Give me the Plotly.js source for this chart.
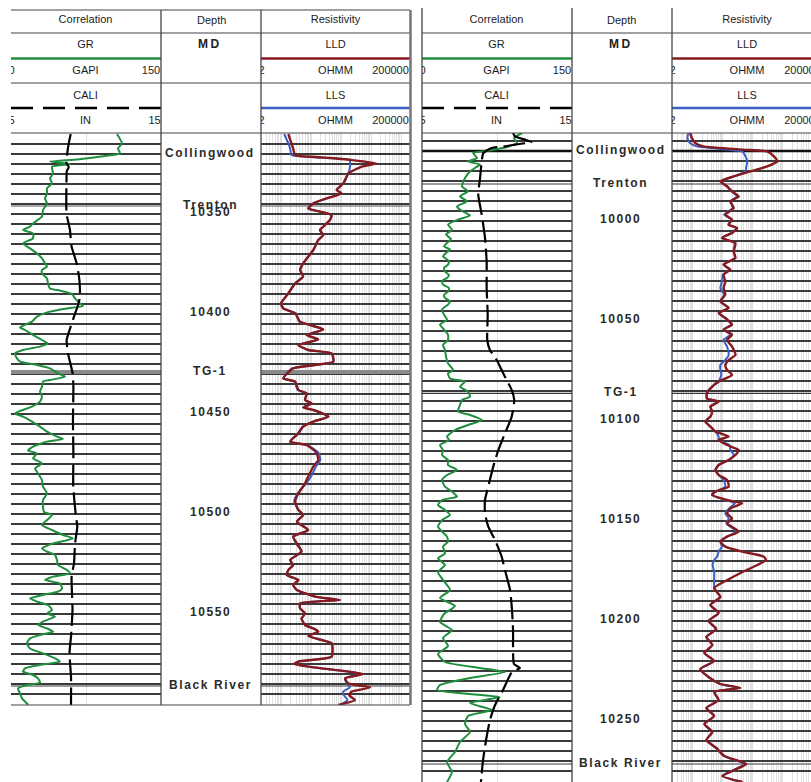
<!DOCTYPE html>
<html>
<head>
<meta charset="utf-8">
<title>Well log correlation</title>
<script src="https://cdn.plot.ly/plotly-3.0.1.min.js"></script>
<style>
  html, body { margin: 0; padding: 0; background: #ffffff; }
  #logs { width: 811px; height: 782px; }
</style>
</head>
<body>
<div id="logs"></div>
<script>
// ---------- header text and curve scales ----------
const trackTitles = ['Correlation', 'Depth', 'Resistivity'];
const depthCurve = 'MD';
const grName = 'GR', grUnit = 'GAPI', grScale = [0, 150];
const caliName = 'CALI', caliUnit = 'IN', caliScale = [5, 15];
const lldName = 'LLD', llsName = 'LLS', resUnit = 'OHMM', resScale = [2, 200000];
const resGridVals = [2,3,4,5,6,7,8,9,10,20,30,40,50,60,70,80,90,100,200,300,400,500,600,700,800,900,
  1000,2000,3000,4000,5000,6000,7000,8000,9000,10000,20000,30000,40000,50000,60000,70000,80000,90000,100000,200000];

// ---------- well 1 (left) ----------
const w1TopNames = ['Collingwood', 'Trenton', 'TG-1', 'Black River'];
const w1TopDepths = [10320, 10346, 10429, 10586];
const w1DepthLabels = [10350, 10400, 10450, 10500, 10550];

const w1GrDepth = [
  10310,10314.7,10317.2,10319.7,10321,10322.7,10323.8,10325,10326.3,10329.7,
  10332.2,10334.7,10337.2,10339.7,10342.2,10344.7,10348,10351.3,10354.7,10356.3,
  10358,10359.7,10362.2,10364.7,10367.2,10369.7,10372.2,10374.7,10376.3,10378,
  10379.7,10382.2,10384.7,10387.2,10388.3,10390,10392.2,10394.7,10396,10397.2,
  10398.8,10401.3,10403.8,10405,10406.7,10408,10410.5,10413,10414.7,10416.3,
  10418,10419.7,10422.2,10423.8,10425.5,10427.2,10429.7,10431.3,10433,10433.8,
  10436.3,10438.8,10441.3,10443.8,10446.3,10449.7,10451.3,10453.8,10456.3,10458.8,
  10461.3,10462.5,10463.8,10466.3,10468.3,10469.7,10472.2,10474.7,10477.2,10479.7,
  10483,10486.3,10489.7,10493,10496.3,10499,10500.5,10503,10505.5,10508,
  10510.5,10512.2,10514.7,10517.2,10518.8,10520.5,10523,10525.5,10528,10529.7,
  10531.3,10533,10534.7,10537.2,10538.8,10540.5,10542.2,10543.8,10545.5,10548,
  10549.7,10551.3,10553.8,10555.5,10557.2,10558.8,10560.5,10562.2,10564.7,10567.2,
  10569.7,10572.2,10573.8,10575.5,10577.2,10578.8,10580.5,10582.2,10584.3,10585.5,
  10587.2,10589.7,10592.2,10594.7,10595.5];
const w1Gr = [
  106,111,107,109,94,66,39,59,41,42,
  39,41,36,36,34,36,32,31,22,19,
  12,22,22,12,19,26,31,34,36,31,
  31,36,37,39,49,61,64,69,72,56,
  39,26,21,16,9,14,22,31,37,29,
  12,4,6,9,26,39,47,54,39,32,
  31,29,31,29,21,4,12,21,29,36,
  46,52,36,22,17,26,22,31,24,27,
  31,32,36,32,32,33,41,36,31,41,
  52,62,42,31,36,44,46,47,56,59,
  42,34,49,51,47,32,19,26,37,41,
  36,44,32,27,36,42,29,19,16,19,
  32,44,49,29,14,12,22,27,29,16,
  7,9,11,16,17];

const w1CaliDepth = [
  10310,10314.7,10319.7,10324.7,10326.5,10328.5,10333,10349.7,10358,10366.3,
  10374.7,10383,10391.3,10395.5,10401.3,10406.3,10413,10419.7,10429.7,10436.3,
  10453,10469.7,10486.3,10501.3,10506.3,10514.7,10524.7,10531.3,10548,10561.3,
  10569.7,10581.3,10595.5];
const w1Cali = [
  8.98,8.85,8.75,8.7,8.85,8.72,8.7,8.7,8.93,9.04,
  9.38,9.56,9.6,9.47,9.2,8.98,8.71,8.8,9.11,9.16,
  9.13,9.16,9.15,9.33,9.42,9.27,9.2,9.04,9.1,9.0,
  8.9,9.0,9.0];

const w1ResDepth = [
  10310,10314.7,10317.2,10320.5,10321.7,10323,10324.7,10326.3,10329.7,10334.7,
  10338,10339.7,10342.2,10344.7,10347.2,10348.8,10350.5,10353,10356.3,10358,
  10360.5,10363,10368,10374.7,10378,10381.3,10384.7,10389.7,10394.7,10397.2,
  10399.7,10403.8,10407.7,10410.5,10412.7,10415.5,10418,10419.7,10423.8,10425.5,
  10427.2,10432.2,10433.8,10438,10439.7,10443,10444.7,10446.7,10448,10451.3,
  10453.8,10456.3,10459.7,10463.8,10465.5,10467.2,10469.7,10473,10476.3,10481.3,
  10484.7,10489.7,10493.8,10498,10500.5,10503.8,10508,10511.3,10514.7,10518.8,
  10523,10525.5,10528,10530.5,10533,10535.5,10538,10541.3,10543,10544.7,
  10547.2,10549.7,10552.2,10555.5,10557.2,10558.8,10561,10563,10564.7,10571.3,
  10573.8,10575,10577.2,10578.8,10580,10582.2,10584.7,10586.7,10588.8,10590.5,
  10593,10595.5];
const w1Lld = [
  16.5,21,24,28,218,2200,15000,4800,1700,1160,
  690,1020,320,114,77,191,470,413,247,191,
  247,167,114,52,41,52,28,16.5,9.4,11.2,
  28,41,247,68,167,36,77,470,534,130,
  24,11.2,28,36,68,60,100,52,114,363,
  114,52,36,19,68,100,148,167,114,77,
  60,36,28,36,52,32,77,24,32,46,
  19,24,16.5,14.6,36,24,32,130,895,41,
  41,60,46,60,114,167,77,218,470,470,
  36,26,218,1700,5400,1320,1700,9100,2200,1800,
  2850,785];
const w1Lls = [
  12,16.5,19,21,150,1900,1950,1950,1700,1160,
  690,1020,320,114,77,191,470,413,247,191,
  247,167,114,52,41,52,28,16.5,9.4,11.2,
  30,38,247,68,167,36,77,470,534,130,
  22,11.2,26,34,68,60,100,52,114,363,
  114,50,34,19,68,110,175,195,140,95,
  66,34,26,36,52,32,77,24,30,46,
  19,24,16.5,14.6,36,24,32,130,895,41,
  41,60,46,60,114,167,77,218,470,470,
  36,26,218,1700,5000,1320,1500,1900,1150,1200,
  1600,900];

// ---------- well 2 (right) ----------
const w2TopNames = ['Collingwood', 'Trenton', 'TG-1', 'Black River'];
const w2TopDepths = [9965, 9981.5, 10086.2, 10271.5];
const w2DepthLabels = [10000, 10050, 10100, 10150, 10200, 10250];

const w2GrDepth = [
  9956,9958.5,9961,9963,9964.5,9965.3,9966,9968.5,9970.2,9971.8,
  9973.5,9975.2,9978.5,9982.7,9985.2,9987.7,9990.2,9992.7,9995,9997.2,
  9999.3,10001.8,10004.3,10006.8,10009,10011,10012.7,10014.3,10016,10017.7,
  10020,10021.8,10023.5,10025.2,10027,10028.5,10030,10031.8,10033.5,10035.2,
  10037,10038.5,10040.2,10041.8,10044.3,10046.8,10049.3,10051.8,10054.3,10056.8,
  10059.5,10062,10064.5,10067.8,10071.2,10074.5,10076.2,10078.7,10080.3,10082.8,
  10085.3,10087.8,10089.5,10092,10095.3,10097,10099.5,10102,10104.5,10107.8,
  10109.5,10112,10114.5,10117,10119.5,10122,10124.5,10127,10129.5,10132.8,
  10135.3,10137.8,10139.5,10142,10144.5,10147,10149.5,10152.8,10155.3,10157.8,
  10160.3,10162.8,10166.2,10168.7,10172,10175.5,10179.5,10184.5,10188.5,10192.5,
  10196.5,10200.5,10204.5,10208.5,10212.5,10216.5,10220.5,10223.5,10225.5,10228.5,
  10232,10234.5,10238,10241,10244.5,10247.5,10251.5,10255.5,10260.5,10265.5,
  10270.5,10275.5,10280.5];
const w2Gr = [
  100,92,95,85,70,60,51,55,46,58,
  53,48,43,40,46,38,45,35,40,48,
  36,26,30,24,29,25,22,28,24,21,
  27,26,22,23,27,25,20,21,27,26,
  22,23,28,26,20,22,25,18,22,26,
  26,21,23,24,26,31,26,28,43,38,
  46,48,40,38,36,48,60,46,33,25,
  27,18,21,20,26,26,35,25,20,23,
  30,35,20,16,23,28,20,16,20,25,
  26,21,23,16,23,16,21,28,18,33,
  22,18,30,21,26,16,23,58,83,48,
  18,15,78,48,70,46,43,48,38,33,
  25,30,25];

const w2CaliDepth = [
  9956,9957.7,9959.3,9960.5,9961.8,9962.7,9963.5,9966,9970.2,9978.5,
  9986.8,9996.8,10008.5,10020.2,10033.5,10046.8,10059.5,10064.5,10069.5,10076.2,
  10084.5,10089.5,10097.8,10106.2,10114.5,10122.8,10131.2,10139.5,10146.2,10152.8,
  10159.5,10167.8,10174.5,10184.5,10194.5,10204.5,10214.5,10221.5,10223.5,10225.5,
  10234.5,10242,10249.5,10259.5,10269.5,10280.5];
const w2Cali = [
  11.07,11.2,11.87,12.3,11.2,10.53,9.65,9.09,8.98,8.87,
  8.75,8.98,9.2,9.31,9.31,9.38,9.35,9.53,9.98,10.42,
  10.98,11.15,10.98,10.53,10.09,9.75,9.47,9.2,9.2,9.42,
  9.87,10.31,10.53,10.87,11.0,11.07,11.07,11.13,11.53,11.0,
  10.4,9.87,9.53,9.27,9.07,8.93];

const w2ResDepth = [
  9956,9958.5,9961,9962.7,9964.3,9965.2,9967.7,9970.2,9972.7,9975.2,
  9977.7,9980.2,9982.7,9985.2,9987.7,9990.2,9993.5,9996.8,9999.3,10001.8,
  10003.5,10006,10008.5,10011,10015.2,10018.5,10021.8,10024.3,10026.8,10030.2,
  10033.5,10036.8,10040.2,10043.5,10046,10048.5,10051.8,10054.3,10056.8,10059.5,
  10062.8,10067,10069.5,10072,10074.5,10077,10080.3,10082.8,10086.2,10088.7,
  10090.3,10092.8,10095.3,10097.8,10100.3,10102.8,10105.3,10107.8,10109.5,10112,
  10114.5,10117,10119.5,10122,10124.5,10127,10129.5,10132.8,10135.3,10137,
  10139.5,10141.2,10143.7,10146.2,10148.7,10151.2,10155.3,10157.8,10160.3,10162.8,
  10165.3,10167.8,10169.5,10172,10175.5,10179.5,10183.5,10188,10192,10196,
  10200,10204,10208,10212,10216,10220,10224,10228,10231.5,10233.5,
  10235.5,10239.5,10243.5,10247.5,10251.5,10255.5,10259.5,10263.5,10267.5,10271.5,
  10274.5,10277.5,10280.5];
const w2Lld = [
  8.0,9.2,11.8,22,494,3000,5000,6500,3000,830,
  228,82,137,201,336,177,228,120,201,155,
  297,201,93,260,228,260,105,177,105,120,
  105,120,82,155,72,120,201,105,201,137,
  201,260,155,120,137,201,72,43.5,29,29,
  72,38,43.5,38,25.6,38,56,155,72,137,
  336,260,155,72,56,72,137,155,56,43.5,
  137,437,177,137,201,137,336,137,82,120,
  437,2300,2700,1400,450,140,51,82,38,72,
  33,60,28,44,24,51,17.5,33,82,380,
  51,72,28,51,24,44,28,60,111,600,
  240,95,450];
const w2Lls = [
  7.0,6.5,8.0,13.5,150,437,564,643,600,564,
  228,82,137,190,300,177,210,110,190,150,
  280,190,93,240,228,250,105,160,100,93,
  82,110,82,150,72,120,190,105,180,105,
  137,155,120,82,82,88,72,43.5,29,29,
  65,38,43.5,38,26,38,56,72,72,165,
  177,228,155,72,56,72,105,120,56,43.5,
  120,250,160,120,155,130,280,137,82,93,
  72,64,51,45,51,51,51,80,38,70,
  33,58,28,44,24,50,17.5,33,80,330,
  51,70,28,51,24,44,28,60,105,520,
  230,95,400];

// ---------- page geometry (pixels of the 811 x 782 page) ----------
const W = 811, H = 782;
const px = v => v / W;
const py = v => 1 - v / H;
const HEAD_TOP = 10, HEAD_BOT = 133;
const ROW = { title: 20.5, curve1: 45, scale1: 71, curve2: 96, scale2: 121 };
const CURVE_LINE1 = 58.5, CURVE_LINE2 = 108;

const GREEN = '#1f8f3e', MAROON = '#861a1e', BLUE = '#3b5fc2', BLACK = '#000000';
const GRID_DARK = '#3a3a3a', GRID_LIGHT = '#e1e1e1', BORDER = '#444444';
const FONT = 'Liberation Sans, Arial, sans-serif';
const TEXT_C = '#1c1c1c';

const wells = [
  { t1: [11, 161], t2: [161, 261], t3: [261, 410], bottom: 705, top: 10, headTopLine: true,
    depthRange: [10595.5, 10309.5], labelX: 210,
    grD: w1GrDepth, gr: w1Gr, caD: w1CaliDepth, ca: w1Cali, rD: w1ResDepth, lld: w1Lld, lls: w1Lls,
    tops: w1TopNames, topD: w1TopDepths, depthLabels: w1DepthLabels,
    topStyle: [{ c: GRID_DARK, w: 1.2 }, { c: '#555555', w: 1.2 }, { c: '#8a8a8a', w: 4 }, { c: GRID_DARK, w: 1.2 }] },
  { t1: [422, 572], t2: [572, 672], t3: [672, 822], bottom: 782, top: 8, headTopLine: false,
    depthRange: [10280.5, 9956], labelX: 620.5,
    grD: w2GrDepth, gr: w2Gr, caD: w2CaliDepth, ca: w2Cali, rD: w2ResDepth, lld: w2Lld, lls: w2Lls,
    tops: w2TopNames, topD: w2TopDepths, depthLabels: w2DepthLabels,
    topStyle: [{ c: '#111111', w: 2.4 }, { c: GRID_DARK, w: 1.2 }, { c: GRID_DARK, w: 1.2 }, { c: GRID_DARK, w: 1.2 }] }
];

const HID = { showticklabels: false, ticks: '', showline: false, zeroline: false, showgrid: false, fixedrange: true };
const layout = {
  width: W, height: H,
  margin: { l: 0, r: 0, t: 0, b: 0 },
  paper_bgcolor: '#ffffff', plot_bgcolor: 'rgba(0,0,0,0)',
  showlegend: false,
  font: { family: FONT, size: 11, color: TEXT_C },
  shapes: [], annotations: []
};
const traces = [];
const logLo = Math.log10(resScale[0]), logHi = Math.log10(resScale[1]);

function hline(y, xa, xb, color, width, dash) {
  layout.shapes.push({ type: 'line', xref: 'paper', yref: 'paper', layer: 'above',
    x0: px(xa), x1: px(Math.min(xb, W)), y0: py(y), y1: py(y),
    line: { color: color, width: width, dash: dash || 'solid' } });
}
function vline(x, ya, yb, color, width) {
  layout.shapes.push({ type: 'line', xref: 'paper', yref: 'paper', layer: 'above',
    x0: px(x), x1: px(x), y0: py(ya), y1: py(yb), line: { color: color, width: width } });
}
const spaced = (t, s) => '<span style="letter-spacing:' + s + 'px">' + t + '</span>';

// header sub-plots share one pixel-unit y axis so cell text is clipped at track borders
layout.yaxis7 = Object.assign({}, HID, { domain: [py(HEAD_BOT), py(HEAD_TOP)], range: [HEAD_BOT, HEAD_TOP], anchor: 'x7' });

wells.forEach((w, i) => {
  const n = i * 3;
  const xGr = 'x' + (n + 1 === 1 ? '' : n + 1), xCa = 'x' + (n + 2), xRes = 'x' + (n + 3);
  const yD = i === 0 ? 'y' : 'y2';
  const yName = i === 0 ? 'yaxis' : 'yaxis2';
  const resEnd = Math.min(w.t3[1], W);
  const resRangeHi = logLo + (logHi - logLo) * (resEnd - w.t3[0]) / (w.t3[1] - w.t3[0]);

  layout['xaxis' + (n + 1 === 1 ? '' : n + 1)] = Object.assign({}, HID, {
    domain: [px(w.t1[0]), px(w.t1[1])], range: grScale, anchor: yD,
    showgrid: true, tickvals: [(grScale[0] + grScale[1]) / 2], gridcolor: GRID_LIGHT, gridwidth: 1 });
  layout['xaxis' + (n + 2)] = Object.assign({}, HID, { overlaying: xGr, range: caliScale, anchor: yD });
  layout['xaxis' + (n + 3)] = Object.assign({}, HID, {
    type: 'log', domain: [px(w.t3[0]), px(resEnd)], range: [logLo, resRangeHi], anchor: yD,
    showgrid: true, tickvals: resGridVals, gridcolor: GRID_LIGHT, gridwidth: 1 });
  layout[yName] = Object.assign({}, HID, {
    domain: [py(w.bottom), py(HEAD_BOT)], range: w.depthRange, anchor: xGr,
    showgrid: true, tick0: 0, dtick: 5, gridcolor: GRID_DARK, gridwidth: 1.2 });

  // formation-top rules: drawn first so they sit over the grid but under the curves
  w.tops.forEach((name, k) => {
    const st = w.topStyle[k];
    traces.push({ type: 'scatter', mode: 'lines', x: grScale, y: [w.topD[k], w.topD[k]], xaxis: xGr, yaxis: yD,
      name: name, line: { color: st.c, width: st.w }, hoverinfo: 'skip' });
    traces.push({ type: 'scatter', mode: 'lines', x: resScale, y: [w.topD[k], w.topD[k]], xaxis: xRes, yaxis: yD,
      name: name, line: { color: st.c, width: st.w }, hoverinfo: 'skip' });
  });

  // curves
  traces.push({ type: 'scatter', mode: 'lines', x: w.gr, y: w.grD, xaxis: xGr, yaxis: yD, name: grName,
    line: { color: GREEN, width: 2, shape: 'spline', smoothing: 0.5 }, hoverinfo: 'skip' });
  traces.push({ type: 'scatter', mode: 'lines', x: w.ca, y: w.caD, xaxis: xCa, yaxis: yD, name: caliName,
    line: { color: BLACK, width: 2.2, dash: '22px,6px', shape: 'spline', smoothing: 0.5 }, hoverinfo: 'skip' });
  traces.push({ type: 'scatter', mode: 'lines', x: w.lls, y: w.rD, xaxis: xRes, yaxis: yD, name: llsName,
    line: { color: BLUE, width: 2, shape: 'spline', smoothing: 0.5 }, hoverinfo: 'skip' });
  traces.push({ type: 'scatter', mode: 'lines', x: w.lld, y: w.rD, xaxis: xRes, yaxis: yD, name: lldName,
    line: { color: MAROON, width: 2.4, shape: 'spline', smoothing: 0.5 }, hoverinfo: 'skip' });

  // header cells for the correlation and resistivity tracks
  const h1 = 'x' + (7 + i * 2), h3 = 'x' + (8 + i * 2);
  layout['xaxis' + (7 + i * 2)] = Object.assign({}, HID, { domain: [px(w.t1[0]), px(w.t1[1])], range: w.t1, anchor: 'y7' });
  layout['xaxis' + (8 + i * 2)] = Object.assign({}, HID, { domain: [px(w.t3[0]), px(resEnd)], range: [w.t3[0], resEnd], anchor: 'y7' });
  const c1 = (w.t1[0] + w.t1[1]) / 2 - 0.5, c3 = (w.t3[0] + w.t3[1]) / 2;
  traces.push({ type: 'scatter', mode: 'text', xaxis: h1, yaxis: 'y7', cliponaxis: true, hoverinfo: 'skip',
    x: [c1, c1, w.t1[0] + 0.5, c1, w.t1[1] - 10, c1, w.t1[0] + 0.5, c1, w.t1[1] - 6.5],
    y: [ROW.title, ROW.curve1, ROW.scale1, ROW.scale1, ROW.scale1, ROW.curve2, ROW.scale2, ROW.scale2, ROW.scale2],
    text: [trackTitles[0], grName, String(grScale[0]), grUnit, String(grScale[1]), caliName,
           String(caliScale[0]), caliUnit, String(caliScale[1])],
    textfont: { family: FONT, size: 11, color: TEXT_C } });
  traces.push({ type: 'scatter', mode: 'text', xaxis: h3, yaxis: 'y7', cliponaxis: true, hoverinfo: 'skip',
    x: [c3, c3, w.t3[0] + 0.5, c3, w.t3[1] - 19.5, c3, w.t3[0] + 0.5, c3, w.t3[1] - 19.5],
    y: [ROW.title, ROW.curve1, ROW.scale1, ROW.scale1, ROW.scale1, ROW.curve2, ROW.scale2, ROW.scale2, ROW.scale2],
    text: [trackTitles[2], lldName, String(resScale[0]), resUnit, String(resScale[1]), llsName,
           String(resScale[0]), resUnit, String(resScale[1])],
    textfont: { family: FONT, size: 11, color: TEXT_C } });

  // depth track header
  layout.annotations.push({ xref: 'paper', yref: 'paper', x: px(w.labelX + 1), y: py(ROW.title), text: trackTitles[1],
    showarrow: false, xanchor: 'center', yanchor: 'middle', font: { family: FONT, size: 11, color: TEXT_C } });
  layout.annotations.push({ xref: 'paper', yref: 'paper', x: px(w.labelX), y: py(ROW.curve1 - 1), text: spaced(depthCurve, 2.5),
    showarrow: false, xanchor: 'center', yanchor: 'middle', font: { family: FONT, size: 12, color: '#222222', weight: 'bold' } });

  // header rules
  const right = Math.min(w.t3[1], W);
  if (w.headTopLine) hline(HEAD_TOP, w.t1[0], right, BORDER, 1.2);
  hline(33, w.t1[0], right, BORDER, 1.2);
  hline(CURVE_LINE1, w.t1[0], w.t1[1], GREEN, 2.4);
  hline(CURVE_LINE1, w.t3[0], right, MAROON, 2.4);
  hline(83, w.t1[0], right, BORDER, 1.2);
  hline(CURVE_LINE2, w.t1[0], w.t1[1], BLACK, 2.6, '22px,10px');
  hline(CURVE_LINE2, w.t3[0], right, BLUE, 2.4);
  hline(HEAD_BOT, w.t1[0], right, BORDER, 1.2);
  if (w.bottom < H) hline(w.bottom, w.t1[0], right, BORDER, 1.2);

  // track borders
  if (i === 1) vline(w.t1[0], w.top, w.bottom, BORDER, 1.3);
  vline(w.t1[1], w.top, w.bottom, BORDER, 1.3);
  vline(w.t2[1], w.top, w.bottom, BORDER, 1.3);
  if (w.t3[1] <= W) vline(w.t3[1] + 0.5, w.top, w.bottom, '#7a7a7a', 2.6);

  // formation names in the depth track
  w.tops.forEach((name, k) => {
    layout.annotations.push({ xref: 'paper', yref: yD, x: px(w.labelX), y: w.topD[k], yshift: 1.5,
      text: spaced(name, 1.6), showarrow: false, xanchor: 'center', yanchor: 'middle',
      font: { family: FONT, size: 12, color: '#2a2a2a', weight: 'bold' } });
  });

  // measured depth labels
  w.depthLabels.forEach(d => {
    layout.annotations.push({ xref: 'paper', yref: yD, x: px(w.labelX), y: d, yshift: 2,
      text: spaced(String(d), 1.6), showarrow: false, xanchor: 'center', yanchor: 'middle',
      font: { family: FONT, size: 12, color: '#2a2a2a', weight: 'bold' } });
  });
});

Plotly.newPlot('logs', traces, layout, { staticPlot: true, displayModeBar: false });
</script>
</body>
</html>
